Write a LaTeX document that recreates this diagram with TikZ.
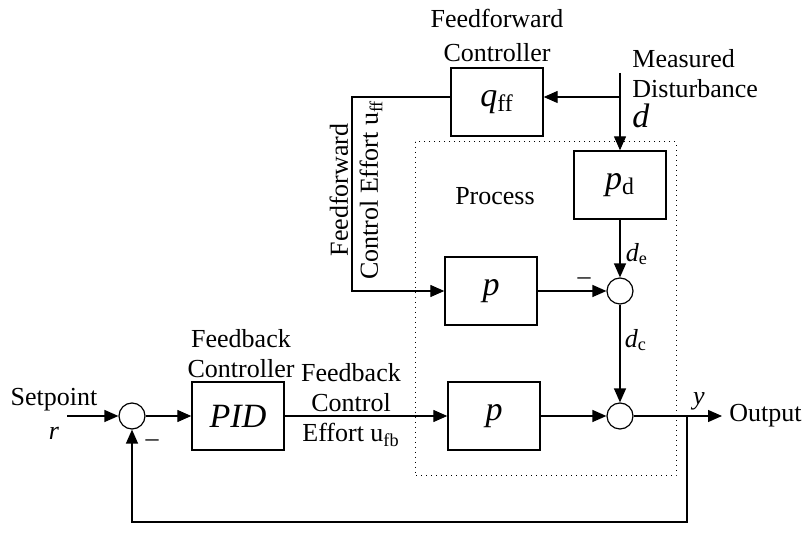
\documentclass[tikz,border=0pt]{standalone}
\usepackage{fontspec}
\setmainfont{Liberation Serif}
\usetikzlibrary{arrows.meta}
\tikzset{
  blk/.style={draw, line width=0.7pt, minimum width=46pt, minimum height=34pt, inner sep=0pt, font=\fontsize{17}{17}\selectfont},
  sumnode/.style={draw, circle, line width=0.6pt, minimum size=13pt, inner sep=0pt},
  sig/.style={line width=0.65pt, -{Triangle[length=7pt,width=6pt]}},
  wire/.style={line width=0.65pt},
  lbl/.style={font=\fontsize{13}{15}\selectfont, inner sep=0pt, align=center},
}
\begin{document}
\begin{tikzpicture}[x=0.5pt, y=-0.5pt]
  \useasboundingbox (0,0) rectangle (809,533);
  % process boundary
  \draw[dotted, line width=0.5pt] (415,142) rectangle (676,476);
  \node[lbl] (proc) at (495,196) {Process};

  % blocks
  \node[blk] (qff) at (497,102) {\textit{q}\textsubscript{ff}};
  \node[blk] (pd) at (620,185) {\textit{p}\textsubscript{d}};
  \node[blk] (pff) at (491,291) {\textit{p}};
  \node[blk] (pfb) at (494,416) {\textit{p}};
  \node[blk] (pid) at (238,416) {\textit{PID}};
  \node[sumnode] (sumff) at (620,291) {};
  \node[sumnode] (sumout) at (620,416) {};
  \node[sumnode] (sumr) at (132,416) {};

  % free ends and corners
  \coordinate (dtop) at (620,73);
  \coordinate (dbr) at (620,97);
  \coordinate (ffc) at (352,97);
  \coordinate (ffl) at (352,291);
  \coordinate (sp) at (67,416);
  \coordinate (yb) at (687,416);
  \coordinate (yend) at (722,416);
  \coordinate (fbr) at (687,522);
  \coordinate (fbl) at (132,522);

  % connectors
  \draw[sig] (dtop) -- (pd.north);
  \draw[sig] (dbr) -- (dbr -| qff.east);
  \draw[sig] (qff.west |- dbr) -- (ffc) -- (ffl) -- (pff.west);
  \draw[sig] (pff.east) -- (sumff.west);
  \draw[sig] (pd.south) -- (sumff.north);
  \draw[sig] (sumff.south) -- (sumout.north);
  \draw[sig] (pfb.east) -- (sumout.west);
  \draw[wire] (sumout.east) -- (yb);
  \draw[sig] (yb) -- (yend);
  \draw[sig] (yb) -- (fbr) -- (fbl) -- (sumr.south);
  \draw[sig] (sp) -- (sumr.west);
  \draw[sig] (sumr.east) -- (pid.west);
  \draw[sig] (pid.east) -- (pfb.west);

  % labels
  \node[lbl] (ffname) at (497,35) {Feedforward\\[2pt]Controller};
  \node[lbl, anchor=west, align=left] (dname) at (632,89) {Measured\\Disturbance\\{\fontsize{17}{15}\selectfont\textit{d}}};
  \node[lbl, rotate=90] (uff) at (356,190) {Feedforward\\Control Effort u\textsubscript{ff}};
  \node[lbl] (de) at (637,254) {\textit{d}\textsubscript{e}};
  \node[lbl] (dc) at (636,340) {\textit{d}\textsubscript{c}};
  \node[lbl] (mff) at (584,281) {--};
  \node[lbl] (mr) at (152,443) {--};
  \node[lbl] (yl) at (699,401) {\textit{y}};
  \node[lbl, anchor=west] (outl) at (729,416) {Output};
  \node[lbl] (spl) at (54,414) {Setpoint\\[2pt]\textit{r}};
  \node[lbl] (fbname) at (241,354) {Feedback\\Controller};
  \node[lbl] (ufb) at (351,405) {Feedback\\Control\\Effort u\textsubscript{fb}};
\end{tikzpicture}
\end{document}
